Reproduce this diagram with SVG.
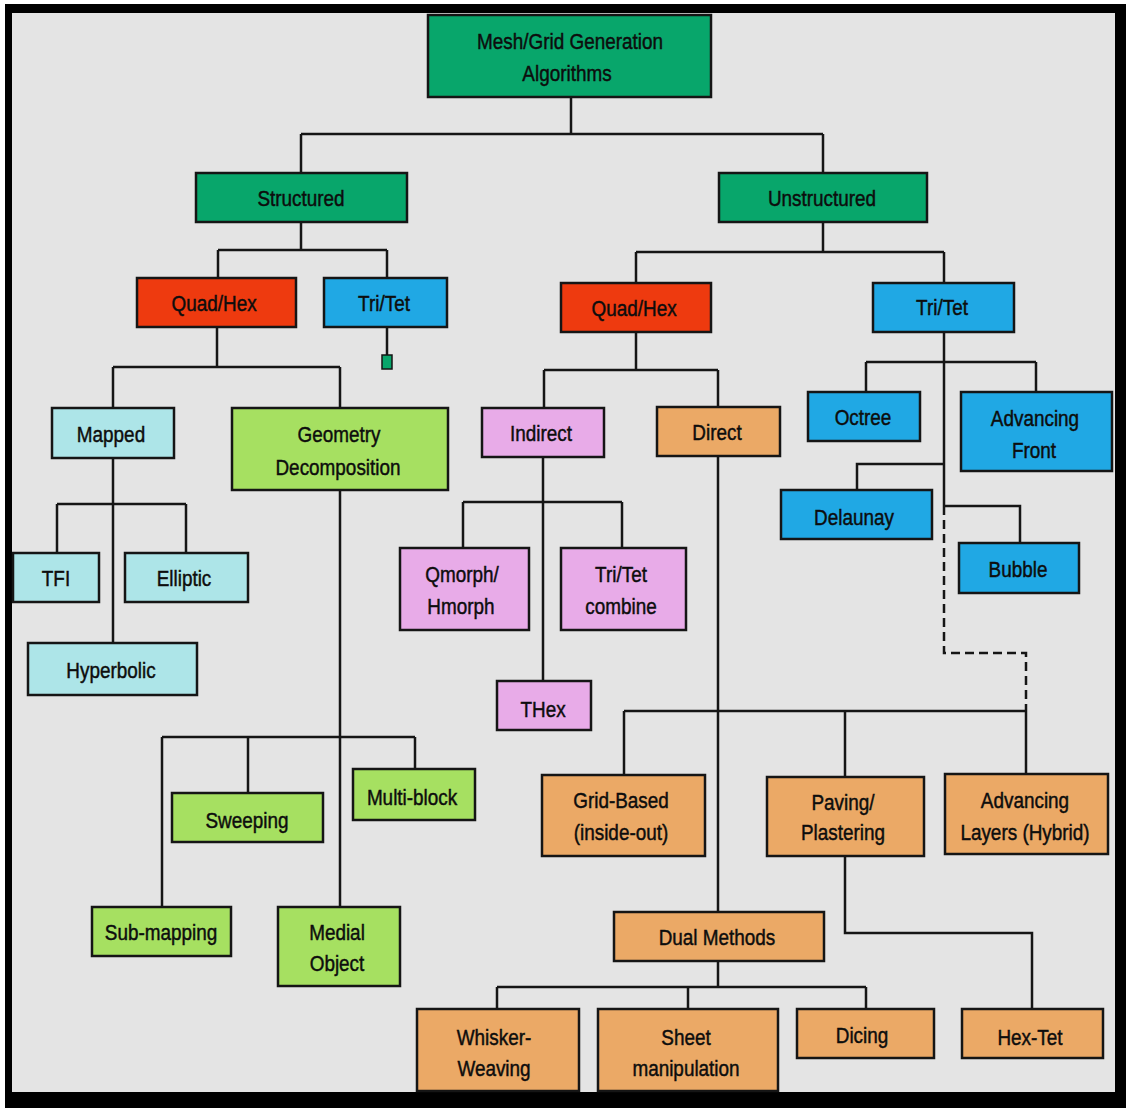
<svg xmlns="http://www.w3.org/2000/svg" width="1126" height="1108" viewBox="0 0 1126 1108">
<style>
  .node rect { stroke: #151515; stroke-width: 2.5; }
  .g { fill: #08a66b; }
  .r { fill: #ee3a0f; }
  .b { fill: #20a8e4; }
  .c { fill: #ade5e8; }
  .lg { fill: #a6e061; }
  .p { fill: #e8abe8; }
  .o { fill: #eba966; }
  text { font-family: "Liberation Sans", Arial, sans-serif; font-size: 22px; fill: #0d0d0d; stroke: #0d0d0d; stroke-width: 0.45; text-anchor: middle;
         transform-box: fill-box; transform-origin: center; transform: scaleX(0.86); }
  .conn path { fill: none; stroke: #151515; stroke-width: 2.5; }
  .conn path.dash { stroke-dasharray: 9 5; }
</style>
<rect x="0" y="0" width="1126" height="1108" fill="#ffffff"/>
<rect x="5" y="4" width="1121" height="1104" fill="#000000"/>
<rect x="12" y="13" width="1103" height="1079" fill="#e4e4e4"/>

<g id="connectors" class="conn">
  <path d="M571,97 V134 M301,134 H823 M301,134 V173 M823,134 V173"/>
  <path d="M301,222 V250 M218,250 H387 M218,250 V278 M387,250 V278"/>
  <path d="M387,327 V355"/>
  <path d="M823,222 V252 M636,252 H944 M636,252 V283 M944,252 V283"/>
  <path d="M217,327 V367 M113,367 H340 M113,367 V408 M340,367 V408"/>
  <path d="M113,458 V643 M57,504 H186 M57,504 V553 M186,504 V553"/>
  <path d="M340,490 V907 M162,737 H415 M162,737 V907 M248,737 V793 M415,737 V769"/>
  <path d="M636,332 V370 M544,370 H718 M544,370 V408 M718,370 V407"/>
  <path d="M543,457 V681 M463,502 H622 M463,502 V548 M622,502 V548"/>
  <path d="M718,456 V912 M624,711 H1026 M624,711 V775 M845,711 V777 M1026,711 V774"/>
  <path d="M845,856 V933 H1032 V1009"/>
  <path d="M718,961 V987 M497,987 H866 M497,987 V1009 M688,987 V1009 M866,987 V1009"/>
  <path d="M944,332 V506 M866,362 H1036 M866,362 V392 M1036,362 V392 M944,464 H857 V490 M944,506 H1020 V543"/>
  <path class="dash" d="M944,506 V653 H1026 V711"/>
</g>

<g id="root" class="node"><rect class="g" x="428" y="15" width="283" height="82"/><text x="570" y="49">Mesh/Grid Generation</text><text x="567" y="81">Algorithms</text></g>
<g id="structured" class="node"><rect class="g" x="196" y="173" width="211" height="49"/><text x="301" y="206">Structured</text></g>
<g id="unstructured" class="node"><rect class="g" x="719" y="173" width="208" height="49"/><text x="822" y="206">Unstructured</text></g>

<g id="s-quadhex" class="node"><rect class="r" x="137" y="278" width="159" height="49"/><text x="214" y="311">Quad/Hex</text></g>
<g id="s-tritet" class="node"><rect class="b" x="324" y="278" width="123" height="49"/><text x="384" y="311">Tri/Tet</text></g>
<g id="s-tritet-end" class="node"><rect class="g" x="382" y="355" width="10" height="14" style="stroke-width:1.5"/></g>
<g id="u-quadhex" class="node"><rect class="r" x="561" y="283" width="150" height="49"/><text x="634" y="316">Quad/Hex</text></g>
<g id="u-tritet" class="node"><rect class="b" x="873" y="283" width="141" height="49"/><text x="942" y="315">Tri/Tet</text></g>

<g id="mapped" class="node"><rect class="c" x="52" y="408" width="122" height="50"/><text x="111" y="442">Mapped</text></g>
<g id="geometry" class="node"><rect class="lg" x="232" y="408" width="216" height="82"/><text x="339" y="442">Geometry</text><text x="338" y="475">Decomposition</text></g>
<g id="tfi" class="node"><rect class="c" x="13" y="553" width="86" height="49"/><text x="56" y="586">TFI</text></g>
<g id="elliptic" class="node"><rect class="c" x="125" y="553" width="123" height="49"/><text x="184" y="586">Elliptic</text></g>
<g id="hyperbolic" class="node"><rect class="c" x="28" y="643" width="169" height="52"/><text x="111" y="678">Hyperbolic</text></g>

<g id="sweeping" class="node"><rect class="lg" x="172" y="793" width="151" height="49"/><text x="247" y="828">Sweeping</text></g>
<g id="multiblock" class="node"><rect class="lg" x="353" y="769" width="122" height="51"/><text x="412" y="805">Multi-block</text></g>
<g id="submapping" class="node"><rect class="lg" x="92" y="907" width="139" height="49"/><text x="161" y="940">Sub-mapping</text></g>
<g id="medial" class="node"><rect class="lg" x="278" y="907" width="122" height="79"/><text x="337" y="940">Medial</text><text x="337" y="971">Object</text></g>

<g id="indirect" class="node"><rect class="p" x="482" y="408" width="122" height="49"/><text x="541" y="441">Indirect</text></g>
<g id="direct" class="node"><rect class="o" x="657" y="407" width="123" height="49"/><text x="717" y="440">Direct</text></g>
<g id="qmorph" class="node"><rect class="p" x="400" y="548" width="129" height="82"/><text x="462" y="582">Qmorph/</text><text x="461" y="614">Hmorph</text></g>
<g id="tritet-combine" class="node"><rect class="p" x="561" y="548" width="125" height="82"/><text x="621" y="582">Tri/Tet</text><text x="621" y="614">combine</text></g>
<g id="thex" class="node"><rect class="p" x="497" y="681" width="94" height="49"/><text x="543" y="717">THex</text></g>

<g id="octree" class="node"><rect class="b" x="808" y="392" width="112" height="49"/><text x="863" y="425">Octree</text></g>
<g id="advfront" class="node"><rect class="b" x="961" y="392" width="151" height="79"/><text x="1035" y="426">Advancing</text><text x="1034" y="458">Front</text></g>
<g id="delaunay" class="node"><rect class="b" x="781" y="490" width="151" height="49"/><text x="854" y="525">Delaunay</text></g>
<g id="bubble" class="node"><rect class="b" x="959" y="543" width="120" height="50"/><text x="1018" y="577">Bubble</text></g>

<g id="gridbased" class="node"><rect class="o" x="542" y="775" width="163" height="81"/><text x="621" y="808">Grid-Based</text><text x="621" y="840">(inside-out)</text></g>
<g id="paving" class="node"><rect class="o" x="767" y="777" width="157" height="79"/><text x="843" y="810">Paving/</text><text x="843" y="840">Plastering</text></g>
<g id="advlayers" class="node"><rect class="o" x="945" y="774" width="163" height="80"/><text x="1025" y="808">Advancing</text><text x="1025" y="840">Layers (Hybrid)</text></g>

<g id="dual" class="node"><rect class="o" x="614" y="912" width="210" height="49"/><text x="717" y="945">Dual Methods</text></g>
<g id="whisker" class="node"><rect class="o" x="417" y="1009" width="162" height="82"/><text x="494" y="1045">Whisker-</text><text x="494" y="1076">Weaving</text></g>
<g id="sheet" class="node"><rect class="o" x="598" y="1009" width="180" height="82"/><text x="686" y="1045">Sheet</text><text x="686" y="1076">manipulation</text></g>
<g id="dicing" class="node"><rect class="o" x="797" y="1009" width="137" height="49"/><text x="862" y="1043">Dicing</text></g>
<g id="hextet" class="node"><rect class="o" x="962" y="1009" width="141" height="49"/><text x="1030" y="1045">Hex-Tet</text></g>
</svg>
